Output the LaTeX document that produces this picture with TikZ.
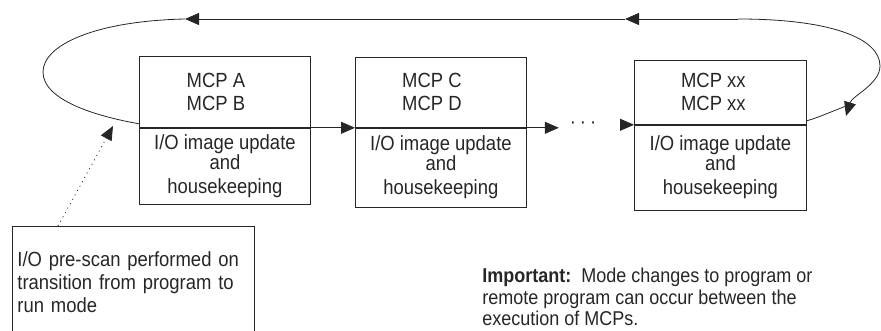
\documentclass[tikz,border=0pt]{standalone}
\usepackage{fontspec}
\setmainfont{Liberation Sans}[FakeStretch=0.9]
\usetikzlibrary{arrows.meta,positioning}
\definecolor{scanink}{HTML}{262626}

\begin{document}
\begin{tikzpicture}[x=1pt,y=-1pt,font=\fontsize{20.5}{23}\selectfont,color=scanink,line width=.8pt,
    mcppart/.style={draw=scanink,minimum width=171pt,anchor=north west,inner sep=0pt,align=center},
    tip/.style={-{Triangle[length=14pt,width=12pt]}}]
        \useasboundingbox (0,0) rectangle (881,331);

        % the three MCP boxes
        \node[mcppart,minimum height=71pt] (b1top) at (139,56) {};
        \node[mcppart,minimum height=76pt] (b1bot) at (b1top.south west) {I/O image update\\[-3pt]and\\[1pt]housekeeping};
        \node[mcppart,minimum height=70pt] (b2top) at (355,57) {};
        \node[mcppart,minimum height=79pt] (b2bot) at (b2top.south west) {I/O image update\\[-3pt]and\\[1pt]housekeeping};
        \node[mcppart,minimum width=172pt,minimum height=64pt] (b3top) at (634,60) {};
        \node[mcppart,minimum width=172pt,minimum height=85pt] (b3bot) at (b3top.south west) {I/O image update\\[-3pt]and\\[1pt]housekeeping};

        \node[align=center] (t1) at ([xshift=-9pt]b1top.center) {MCP A\\MCP B};
        \node[align=center] (t2) at ([xshift=-9pt]b2top.center) {MCP C\\MCP D};
        \node[align=center] (t3) at ([xshift=-7pt]b3top.center) {MCP xx\\MCP xx};

        % forward arrows
        \coordinate (d1) at ([xshift=32pt]b2bot.north east);
        \coordinate (d2) at ([xshift=-14pt]b3bot.north west);
        \node (dots) at (583,125) {·\hspace{4pt}·\hspace{4pt}·};
        \draw[tip] (b1bot.north east) -- (b2bot.north west);
        \draw[tip] (b2bot.north east) -- (d1);
        \draw[tip] (d2) -- (b3bot.north west);

        % return loop
        \coordinate (topR) at (738,19);
        \coordinate (topM) at (625,19);
        \coordinate (topL) at (185,19);
        \coordinate (loopR) at (846,116);
        \coordinate (loopRb) at (849,105);
        \draw[tip] (topR) .. controls (830,19) and (880,38) .. (880,66) .. controls (880,84) and (852,96) .. (loopR);
        \draw (loopRb) .. controls (830,112) and (820,117) .. ([yshift=4pt]b3bot.north east);
        \draw[tip] (topR) -- (topM);
        \draw[tip] (topM) -- (topL);
        \draw (topL) .. controls (95,21) and (43,45) .. (43,72) .. controls (43,100) and (95,116) .. ([yshift=4pt]b1bot.north west);

        % pre-scan note
        \node[draw=scanink,anchor=north west,minimum height=112pt,text width=232pt,inner xsep=5pt,align=left] (note) at (12,226) {I/O pre-scan performed on\\transition from program to\\run mode};
        \coordinate (scan) at (113,126);
        \draw[tip,dash pattern=on 1pt off 4pt] ([xshift=46pt]note.north west) -- (scan);

        \node[anchor=north west,align=left,inner sep=0pt,font=\fontsize{20}{21.5}\selectfont] (important) at (482,268) {\textbf{Important:}\enspace Mode changes to program or\\remote program can occur between the\\execution of MCPs.};
      \end{tikzpicture}
\end{document}
